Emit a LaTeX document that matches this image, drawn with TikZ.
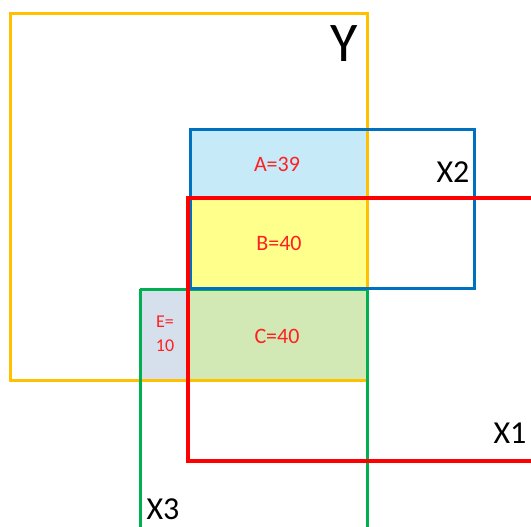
\documentclass[tikz,border=0pt]{standalone}
\usepackage{fontspec}
\setmainfont{Carlito}
\definecolor{cY}{HTML}{FFC000}
\definecolor{cX2}{HTML}{0070C0}
\definecolor{cX1}{HTML}{FF0000}
\definecolor{cX3}{HTML}{00B050}
\definecolor{fA}{HTML}{C6EAF8}
\definecolor{fB}{HTML}{FFFF8C}
\definecolor{fC}{HTML}{D2E8B5}
\definecolor{fE}{HTML}{D6DFEC}
\definecolor{lab}{HTML}{FF2020}
\begin{document}
\begin{tikzpicture}[x=1pt,y=-1pt,
  box/.style={line width=3pt},
  region/.style={text=lab,font=\fontsize{22}{24}\selectfont},
  small/.style={text=lab,font=\fontsize{18}{20}\selectfont},
  setname/.style={text=black,font=\fontsize{32}{34}\selectfont}]
\useasboundingbox (0,0) rectangle (531,527);
% fills
\fill[fA] (190,130) rectangle (367,198);
\fill[fB] (190,198) rectangle (367,288);
\fill[fC] (188,288) rectangle (367,380);
\fill[fE] (140,288) rectangle (188,380);
% outlines
\draw[box,cY] (10,14) rectangle (367,380);
\draw[box,cX3] (140,289) -- (140,530) (140,289) -- (367,289) -- (367,530);
\draw[box,cX2] (190,130) rectangle (474,288);
\draw[line width=4pt,cX1] (535,198) -- (188,198) -- (188,461) -- (535,461);
% labels
\node[region] (A) at (277,164) {A=39};
\node[region] (B) at (279,243) {B=40};
\node[region] (C) at (277,336) {C=40};
\node[small] (E1) at (165,322) {E=};
\node[small] (E2) at (165,346) {10};
\node[text=black,font=\fontsize{56}{58}\selectfont] (Y) at (344,44) {Y};
\node[setname] (X2) at (453,172) {X2};
\node[setname] (X1) at (510,433) {X1};
\node[setname] (X3) at (163,509) {X3};
\end{tikzpicture}
\end{document}
